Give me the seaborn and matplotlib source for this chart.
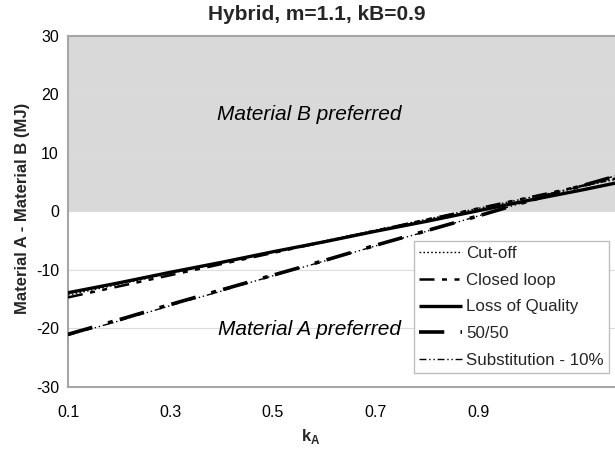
import matplotlib
matplotlib.use("Agg")
import matplotlib.pyplot as plt
import seaborn as sns
import pandas as pd

# Recycling allocation comparison: difference in energy (MJ) vs kA
k_a = [0.1, 0.2, 0.3, 0.4, 0.5, 0.6, 0.7, 0.8, 0.9, 1.0, 1.1, 1.2]
cut_off = [-14.3, -12.45, -10.6, -8.75, -6.9, -5.05, -3.2, -1.35, 0.5, 2.35, 4.2, 6.05]
closed_loop = [-14.7, -12.8, -10.9, -9.0, -7.1, -5.2, -3.3, -1.4, 0.5, 2.4, 4.3, 6.2]
loss_of_quality = [-13.9, -12.2, -10.4, -8.7, -6.9, -5.2, -3.4, -1.7, 0.1, 1.9, 3.6, 5.4]
fifty_fifty = [-21.0, -18.5, -15.9, -13.4, -10.9, -8.4, -5.8, -3.3, -0.8, 1.8, 4.3, 6.8]
substitution = [-21.2, -18.7, -16.1, -13.6, -11.0, -8.5, -5.9, -3.4, -0.8, 1.8, 4.3, 6.9]

series_names = ["Cut-off", "Closed loop", "Loss of Quality", "50/50", "Substitution - 10%"]
series_values = [cut_off, closed_loop, loss_of_quality, fifty_fifty, substitution]

x_ticks = [0.1, 0.3, 0.5, 0.7, 0.9]
y_ticks = [-30, -20, -10, 0, 10, 20, 30]

sns.set_theme(style="white")
plt.rcParams["font.family"] = ["Liberation Sans", "DejaVu Sans"]
plt.rcParams["mathtext.fontset"] = "custom"
plt.rcParams["mathtext.bf"] = "Liberation Sans:bold"
plt.rcParams["mathtext.rm"] = "Liberation Sans"

df = pd.DataFrame({"kA": k_a})
for name, vals in zip(series_names, series_values):
    df[name] = vals
long = df.melt(id_vars="kA", var_name="Scenario", value_name="diff")

styles = {
    "Cut-off": dict(lw=1.0, dashes=(1.2, 1.6)),
    "Closed loop": dict(lw=1.8, dashes=(6, 3, 2, 3, 2, 3)),
    "Loss of Quality": dict(lw=2.4, dashes=None),
    "50/50": dict(lw=2.6, dashes=(7, 4.5, 1.4, 2)),
    "Substitution - 10%": dict(lw=1.0, dashes=(5, 2, 1, 2, 1, 2)),
}

fig = plt.figure(figsize=(6.15, 4.5), dpi=100)
ax = fig.add_axes([68 / 615, 1 - 387 / 450, 1 - 68 / 615, (387 - 35.7) / 450])

# shaded region where material B is preferred
ax.axhspan(0, 30, color="#d9d9d9", zorder=0, lw=0)

for name in series_names:
    sub = long[long["Scenario"] == name]
    st = styles[name]
    sns.lineplot(data=sub, x="kA", y="diff", ax=ax, color="black",
                 lw=st["lw"], label=name, zorder=3, legend=False)
    ln = ax.lines[-1]
    if st["dashes"] is not None:
        ln.set_dashes(st["dashes"])
    ln.set_solid_capstyle("butt")
    ln.set_dash_capstyle("butt")

ax.set_xlim(0.1, 0.1 + (615 - 68) / 512.5 * 1.0)
ax.set_ylim(-30, 30)
ax.set_xticks(x_ticks)
ax.set_xticklabels([f"{t:.1f}" for t in x_ticks])
ax.set_yticks(y_ticks)
ax.set_yticklabels([str(t) for t in y_ticks])
ax.tick_params(axis="both", which="major", labelsize=11.5, colors="black",
               length=4, width=1, direction="out")
ax.tick_params(axis="x", color="#a6a6a6", pad=9)
ax.tick_params(axis="y", color="#a6a6a6", pad=2.5)
ax.yaxis.grid(True, color="#dcdcdc", lw=0.8, zorder=0.5)
ax.set_axisbelow(True)
ax.set_xlabel("")
ax.set_ylabel("")

for side in ["left", "bottom", "top"]:
    ax.spines[side].set_visible(True)
    ax.spines[side].set_color("#a6a6a6")
    ax.spines[side].set_linewidth(1.5)
ax.spines["right"].set_visible(False)

ax.text(0.571, 16.6, "Material B preferred", fontsize=15, style="italic",
        ha="center", va="center", color="black", zorder=4)
ax.text(0.571, -20.1, "Material A preferred", fontsize=15, style="italic",
        ha="center", va="center", color="black", zorder=4)

handles = ax.lines[-5:]
leg = ax.legend(handles=handles, labels=series_names, loc="upper left",
                bbox_to_anchor=((414 - 68) / 547, 1 - (241 - 35.7) / 351.3),
                fontsize=12.2, frameon=True, fancybox=False, edgecolor="#bfbfbf",
                facecolor="white", framealpha=1, handlelength=2.5,
                handletextpad=0.25, labelspacing=0.68, borderpad=0.32,
                borderaxespad=0)
leg.get_frame().set_linewidth(1.0)
leg.set_zorder(5)

fig.text(317 / 615, 1 - 15 / 450, "Hybrid, m=1.1, kB=0.9", fontsize=15,
         fontweight="bold", ha="center", va="center")
fig.text(23 / 615, 1 - 208 / 450, "Material A - Material B (MJ)", fontsize=12,
         fontweight="bold", rotation=90, ha="center", va="center")
fig.text(311 / 615, 1 - 437 / 450, r"$\mathbf{k}_\mathbf{A}$", fontsize=12,
         ha="center", va="center")

fig.savefig("out.png", dpi=100)
